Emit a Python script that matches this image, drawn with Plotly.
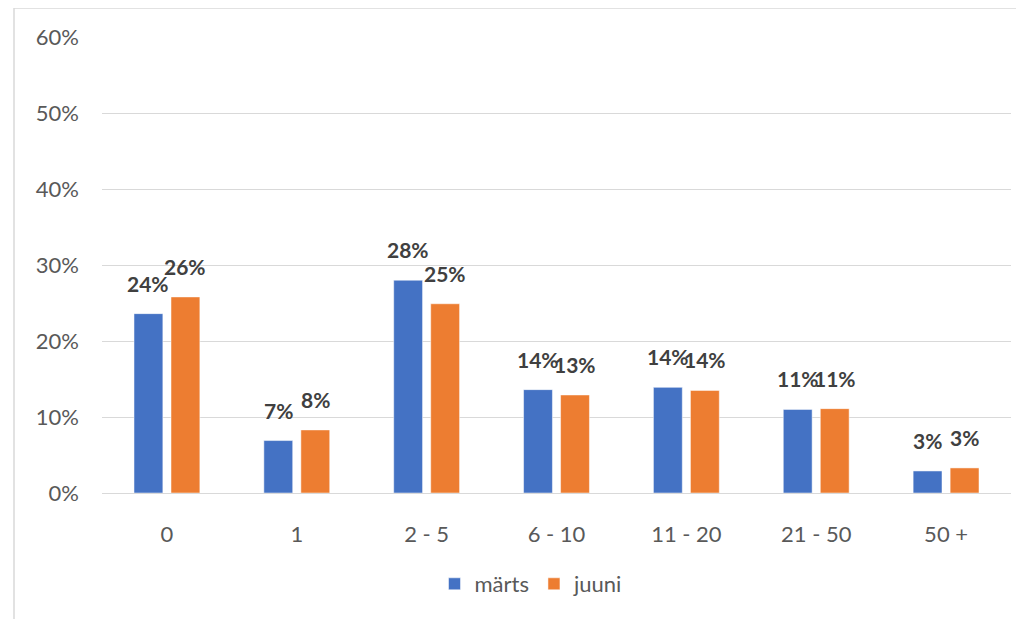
import plotly.graph_objects as go

categories = ["0", "1", "2 - 5", "6 - 10", "11 - 20", "21 - 50", "50 +"]
marts = [0.236, 0.069, 0.280, 0.136, 0.139, 0.110, 0.029]
juuni = [0.258, 0.083, 0.249, 0.129, 0.135, 0.111, 0.033]
series_names = ["märts", "juuni"]
colors = ["#4472C4", "#ED7D31"]

fig = go.Figure()
for name, vals, col in zip(series_names, [marts, juuni], colors):
    fig.add_trace(go.Bar(x=categories, y=vals, name=name, marker_color=col,
                         marker_line=dict(color="white", width=0.5)))

annotations = []
for vals, shift in [(marts, -18.5), (juuni, 18.5)]:
    for c, v in zip(categories, vals):
        annotations.append(dict(x=c, y=v, xref="x", yref="y", text=f"{round(v*100):.0f}%",
                                showarrow=False, xshift=shift, yshift=16, yanchor="bottom",
                                font=dict(family="Lato", size=21, color="#404040", weight="bold")))

# page offset of the figure (body margin) is 8 px
OFF = 8
W, H = 1024 - OFF, 619 - OFF
L, T = 102 - OFF, 37 - OFF
R = W - (1011 - OFF)
B = H - (493 - OFF)
pw, ph = W - L - R, H - T - B

def px(xp):
    return (xp - OFF - L) / pw

def py(yp):
    return (T + ph - (yp - OFF)) / ph

fig.update_layout(
    width=W, height=H,
    margin=dict(l=L, r=R, t=T, b=B),
    paper_bgcolor="white", plot_bgcolor="white",
    barmode="group", bargap=0.43, bargroupgap=0.22,
    font=dict(family="Lato", color="#595959", size=22),
    legend=dict(orientation="h", x=px(531), xanchor="center",
                y=py(584), yanchor="middle",
                font=dict(size=22, color="#595959"), itemwidth=30),
    annotations=annotations,
    shapes=[dict(type="rect", xref="paper", yref="paper",
                 x0=px(14), x1=px(1030), y0=py(630), y1=py(8),
                 line=dict(color="#D9D9D9", width=1.5), fillcolor="rgba(0,0,0,0)", layer="below")],
)
fig.update_yaxes(range=[0, 0.6], dtick=0.1, tickformat=".0%", gridcolor="#D9D9D9",
                 gridwidth=1, zeroline=False, showline=False, ticklabelstandoff=22,
                 tickfont=dict(size=22, color="#595959"))
fig.update_xaxes(showline=True, linecolor="#D9D9D9", linewidth=1, ticks="",
                 ticklabelstandoff=22, tickfont=dict(size=22, color="#595959"))

fig.write_html("out.html")
